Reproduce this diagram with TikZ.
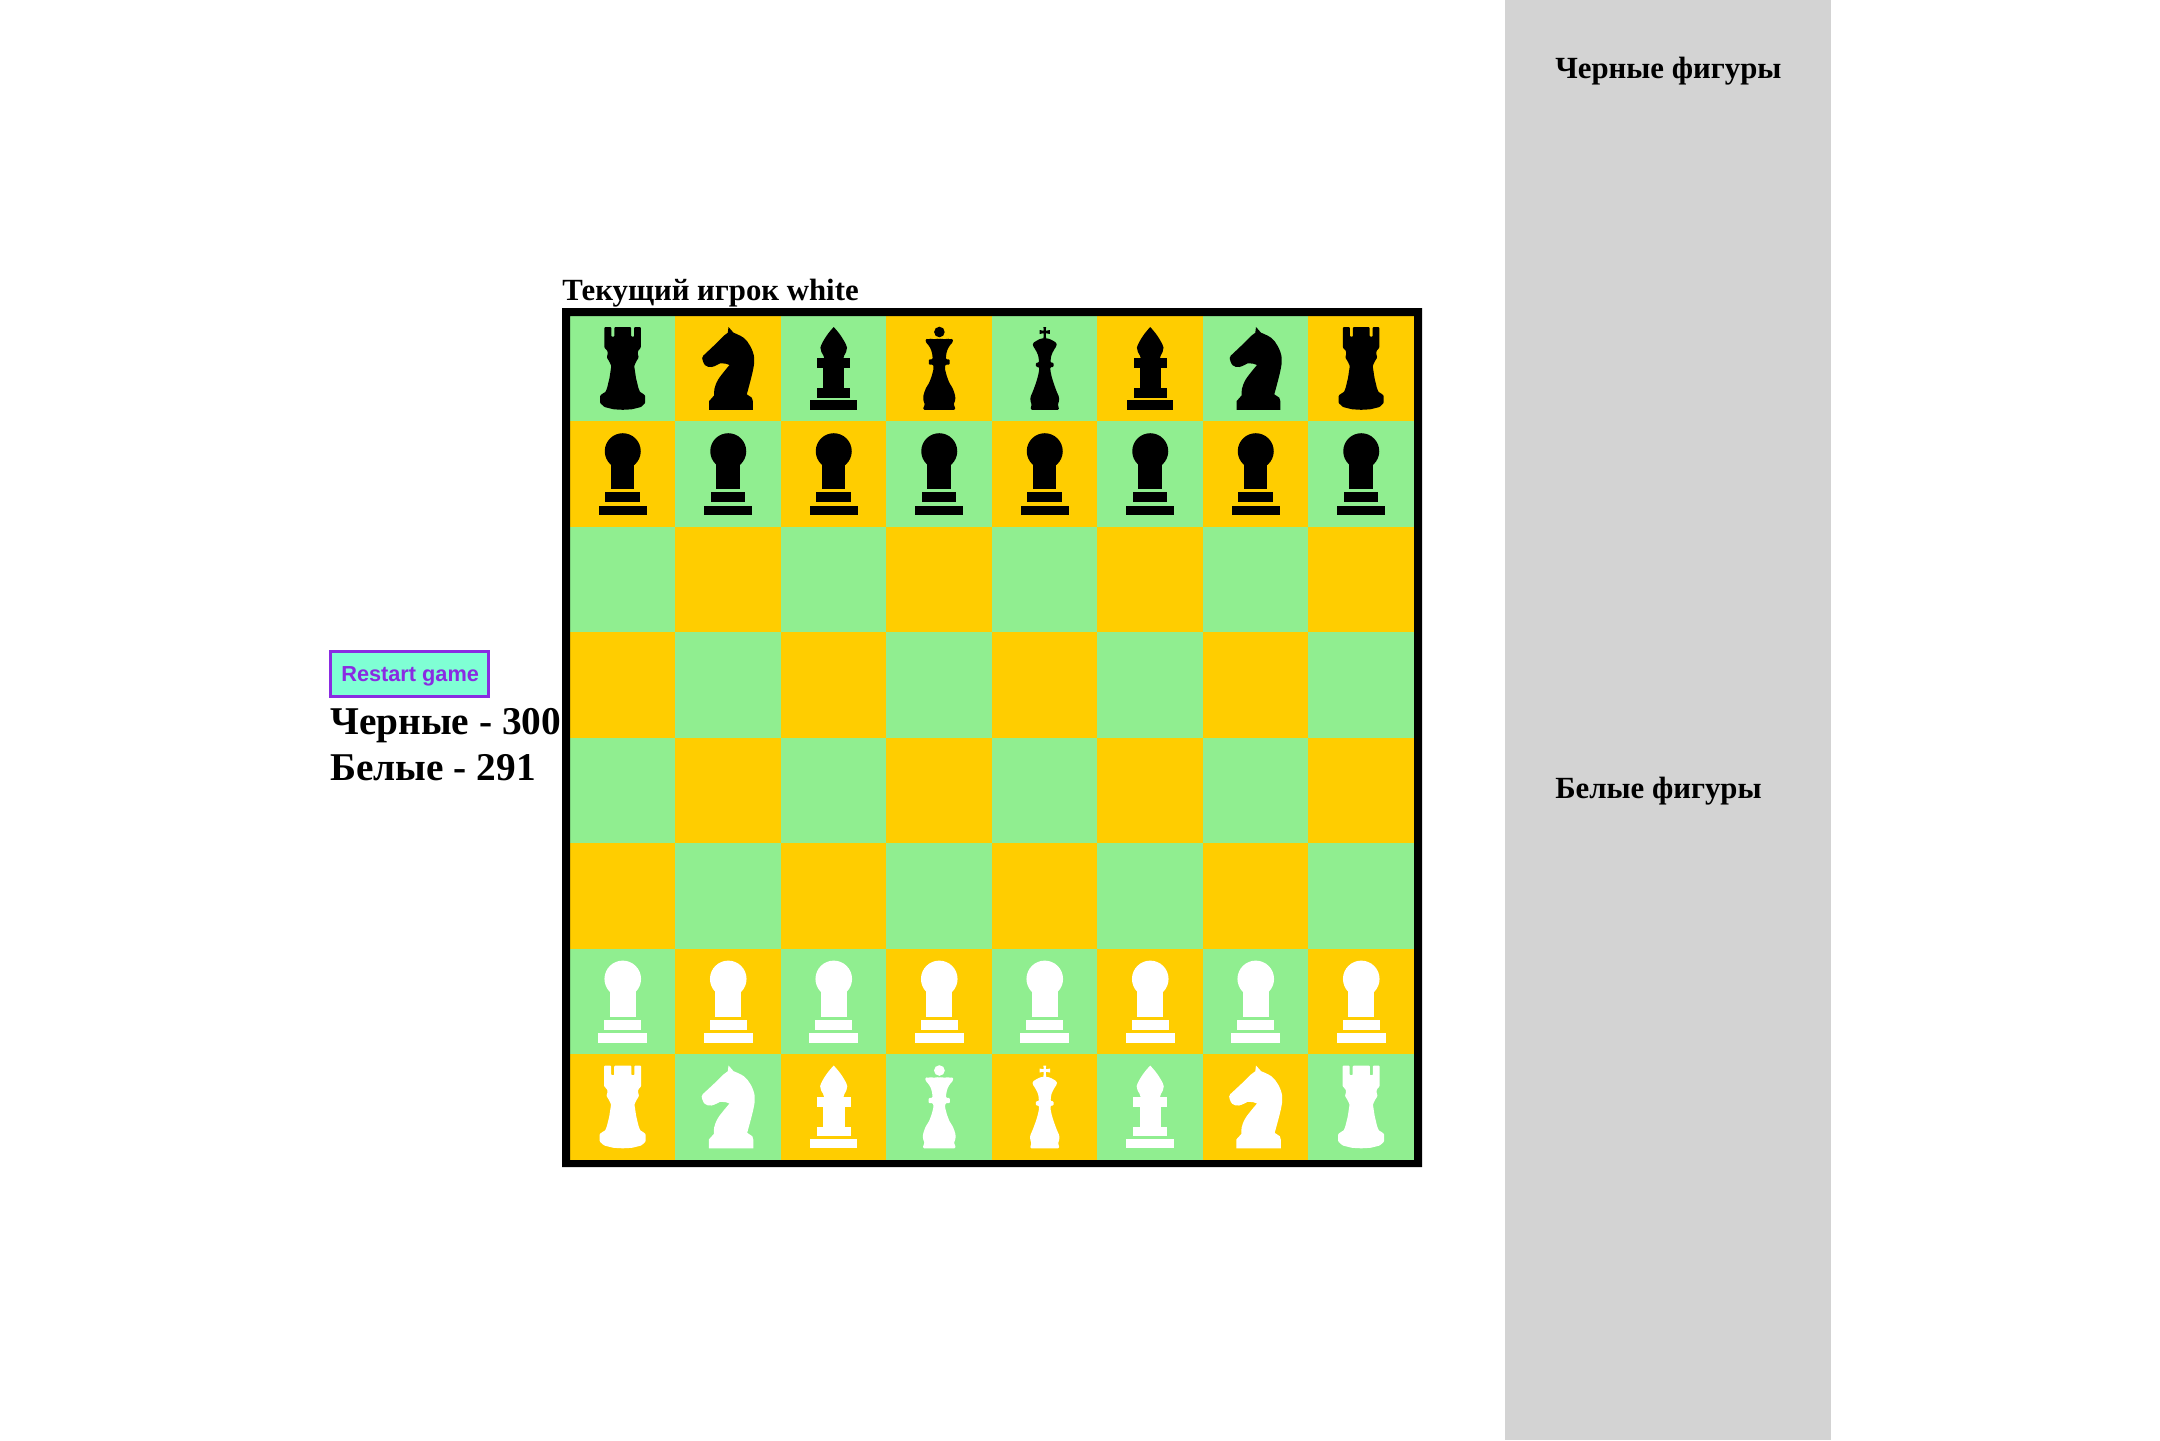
\documentclass[tikz,border=0pt]{standalone}
\usepackage{fontspec}
\setmainfont{Liberation Serif}
\newfontfamily\btnfont{Liberation Sans}
\definecolor{cellgreen}{HTML}{90EE90}
\definecolor{cellorange}{HTML}{FFCD00}
\definecolor{panelgray}{HTML}{D3D3D3}
\definecolor{btnfill}{HTML}{7FFFD4}
\definecolor{btnline}{HTML}{8A2BE2}
\colorlet{piececol}{black}
\tikzset{
  inpiece/.style={shift={(-52.75,0)}},
  smalltext/.style={anchor=base west,inner sep=0pt,font=\bfseries\fontsize{23.1}{27}\selectfont},
  bigtext/.style={anchor=base west,inner sep=0pt,font=\bfseries\fontsize{29.5}{34}\selectfont},
  pieceRook/.pic={\begin{scope}[inpiece]
    \fill[piececol,rounded corners=0.6pt] (34.4,11.2) -- (41.4,11.2) -- (41.4,20.7) -- (44.4,20.7) -- (44.4,11.2) -- (61.2,11.2) -- (61.2,20.7) -- (64.2,20.7) -- (64.2,11.2) -- (70.8,11.2) -- (70.8,31.7) -- (68,35) -- (67.7,37.5) -- (68.7,41.5) -- (66.2,45.5) -- (64.2,50) -- (66,62) -- (68.4,72) -- (70,76) -- (72,77) -- (75.2,79.5) -- (75.2,87) -- (71,91) -- (62,93.3) -- (52.75,93.8) -- (43.5,93.3) -- (34.5,91) -- (30.1,87) -- (30.1,79.5) -- (33.5,77) -- (35.5,76) -- (37.1,72) -- (39.5,62) -- (41.3,50) -- (39.3,45.5) -- (36.8,41.5) -- (37.8,37.5) -- (37.5,35) -- (34.4,31.7) -- cycle;
  \end{scope}},
  pieceKnight/.pic={\begin{scope}[inpiece]
    \fill[piececol] (53,11) -- (58,16.7) -- plot[smooth,tension=0.6] coordinates {(58,16.7) (68,21.7) (74.7,30) (78.7,41.7) (77.3,55) (71.3,78.3)} -- (76.3,81.7) -- (77.3,85) -- (77.3,93.8) -- (33.7,93.8) -- (33.7,85) -- (38.7,79.3) -- plot[smooth,tension=0.6] coordinates {(38.7,79.3) (38.9,73) (43,63) (54,49)} -- (50,47.6) -- (44.7,47.3) -- plot[smooth,tension=0.6] coordinates {(44.7,47.3) (36.3,51) (29.7,49.3) (26.7,42) (29,38.5)} -- (38,30) -- (48,20) -- (52.3,16.7) -- cycle;
  \end{scope}},
  pieceBishop/.pic={\begin{scope}[inpiece]
    \fill[piececol] (52.7,11) -- plot[smooth,tension=0.6] coordinates {(52.7,11) (60,20) (66,31.7) (63.3,39.3) (62.3,42.5)} -- (43.3,42.5) -- plot[smooth,tension=0.6] coordinates {(43.3,42.5) (42.3,39.3) (39.4,31.7) (45.4,20) (52.7,11)} -- cycle;
    \fill[piececol] (36,42.3) rectangle (69.3,52);
    \fill[piececol] (42.3,51) rectangle (63.3,73);
    \fill[piececol] (36,72) rectangle (69.3,81.7);
    \fill[piececol] (29.3,84.3) rectangle (75.7,93.8);
  \end{scope}},
  pieceQueen/.pic={\begin{scope}[inpiece]
    \fill[piececol] (52.9,16) circle[radius=5.3];
    \fill[piececol,rounded corners=0.8pt] (52.75,23.2) -- (55.25,22.4) -- (57.75,23.6) -- (60.75,22.4) -- (63.75,23.4) -- (66.15,22.6) -- (66.35,26) -- (63.25,29.5) -- (61.05,33.3) -- (59.75,38) -- (59.25,43.3) -- (63.15,43.3) -- (63.15,48.7) -- (58.75,48.7) -- (58.45,53) -- (60.25,60) -- (62.75,66.7) -- (65.75,71.5) -- (67.25,75) -- (68.75,80) -- (68.75,84) -- (67.05,89) -- (68.55,90.7) -- (68.55,93.8) -- (36.95,93.8) -- (36.95,90.7) -- (38.45,89) -- (36.75,84) -- (36.75,80) -- (38.25,75) -- (39.75,71.5) -- (42.75,66.7) -- (45.25,60) -- (47.05,53) -- (46.75,48.7) -- (42.35,48.7) -- (42.35,43.3) -- (46.25,43.3) -- (45.75,38) -- (44.45,33.3) -- (42.25,29.5) -- (39.15,26) -- (39.35,22.6) -- (41.75,23.4) -- (44.75,22.4) -- (47.75,23.6) -- (50.25,22.4) -- cycle;
  \end{scope}},
  pieceKing/.pic={\begin{scope}[inpiece]
    \fill[piececol] (51.4,11) -- (54.1,11) -- (53.8,14.8) -- (57.9,14) -- (57.9,18) -- (53.8,17.2) -- (54.1,23) -- (51.4,23) -- (51.7,17.2) -- (47.6,18) -- (47.6,14) -- (51.7,14.8) -- cycle;
    \fill[piececol,rounded corners=0.8pt] (52.75,22.3) -- (56.75,22.6) -- (60.75,24.5) -- (64.55,27) -- (64.55,30) -- (62.45,33) -- (60.05,37.5) -- (58.95,41) -- (58.45,46.7) -- (61.55,46.7) -- (61.55,51) -- (58.35,51) -- (58.45,55) -- (59.75,61) -- (61.45,66.7) -- (64.45,75) -- (67.05,81) -- (67.05,85) -- (65.75,89) -- (66.75,91) -- (66.75,93.8) -- (38.75,93.8) -- (38.75,91) -- (39.75,89) -- (38.45,85) -- (38.45,81) -- (41.05,75) -- (44.05,66.7) -- (45.75,61) -- (47.05,55) -- (47.15,51) -- (43.95,51) -- (43.95,46.7) -- (47.05,46.7) -- (46.55,41) -- (45.45,37.5) -- (43.05,33) -- (40.95,30) -- (40.95,27) -- (44.95,24.5) -- (48.75,22.6) -- cycle;
  \end{scope}},
  piecePawn/.pic={\begin{scope}[inpiece]
    \fill[piececol] (52.75,29.7) circle[radius=18];
    \fill[piececol] (40.9,38) rectangle (64.4,67);
    \fill[piececol] (35.4,70.7) rectangle (69.8,80.4);
    \fill[piececol] (28.7,84) rectangle (76.7,93.8);
  \end{scope}},
  pieceWhitePawn/.pic={\begin{scope}[inpiece]
    \fill[piececol] (52.75,29.9) circle[radius=18.3];
    \fill[piececol] (39.7,38) rectangle (65.8,68.2);
    \fill[piececol] (34.4,71) rectangle (71,81);
    \fill[piececol] (28,83.7) rectangle (77.4,93.7);
  \end{scope}},
}
\begin{document}
\begin{tikzpicture}[x=0.75pt,y=-0.75pt]
\useasboundingbox (0,0) rectangle (2160,1440);
\fill[white] (0,0) rectangle (2160,1440);
% side panel
\fill[panelgray] (1505,0) rectangle (1831,1440);
\node[smalltext] (blackhead) at (1555,78) {Черные фигуры};
\node[smalltext] (whitehead) at (1555,798) {Белые фигуры};
% board
\fill[black] (562,308) rectangle (1422,1167);
\fill[cellgreen] (570,316) rectangle (1414,1160);
\foreach \r in {0,...,7}{
  \foreach \c in {0,...,7}{
    \pgfmathparse{int(mod(\r+\c,2))}
    \ifnum\pgfmathresult=1
      \fill[cellorange] ({569.75+105.5*\c},{315.75+105.5*\r}) rectangle ({569.75+105.5*(\c+1)},{315.75+105.5*(\r+1)});
    \fi
  }
}
\fill[black] (562,308) rectangle (570,1167) (1414,308) rectangle (1422,1167) (562,308) rectangle (1422,316) (562,1160) rectangle (1422,1167);
% black pieces
\begin{scope}
\colorlet{piececol}{black}
\foreach \p [count=\i from 0] in {pieceRook,pieceKnight,pieceBishop,pieceQueen,pieceKing,pieceBishop,pieceKnight,pieceRook}{
  \pic at ({622.75+105.5*\i},316) {\p};
  \pic at ({622.75+105.5*\i},421.5) {piecePawn};
}
\end{scope}
% white pieces
\begin{scope}
\colorlet{piececol}{white}
\foreach \p [count=\i from 0] in {pieceRook,pieceKnight,pieceBishop,pieceQueen,pieceKing,pieceBishop,pieceKnight,pieceRook}{
  \pic[xscale=1.02] at ({622.75+105.5*\i},1054.5) {\p};
  \pic at ({622.75+105.5*\i},949) {pieceWhitePawn};
}
\end{scope}
% texts
\node[smalltext] (turn) at (562,300) {Текущий игрок white};
\node[draw=btnline,line width=2.25pt,fill=btnfill,inner sep=0pt,minimum width=118.5pt,minimum height=33.75pt,anchor=north west] (restart) at (329,650) {};
\node[anchor=base,inner sep=0pt,text=btnline,font=\btnfont\bfseries\fontsize{16.3}{19}\selectfont] (restartlabel) at ([xshift=0.5pt]restart.center |- 0,681) {Restart game};
\node[bigtext] (scoreblack) at (330,734) {Черные - 300};
\node[bigtext] (scorewhite) at (330,780) {Белые - 291};
\end{tikzpicture}
\end{document}
